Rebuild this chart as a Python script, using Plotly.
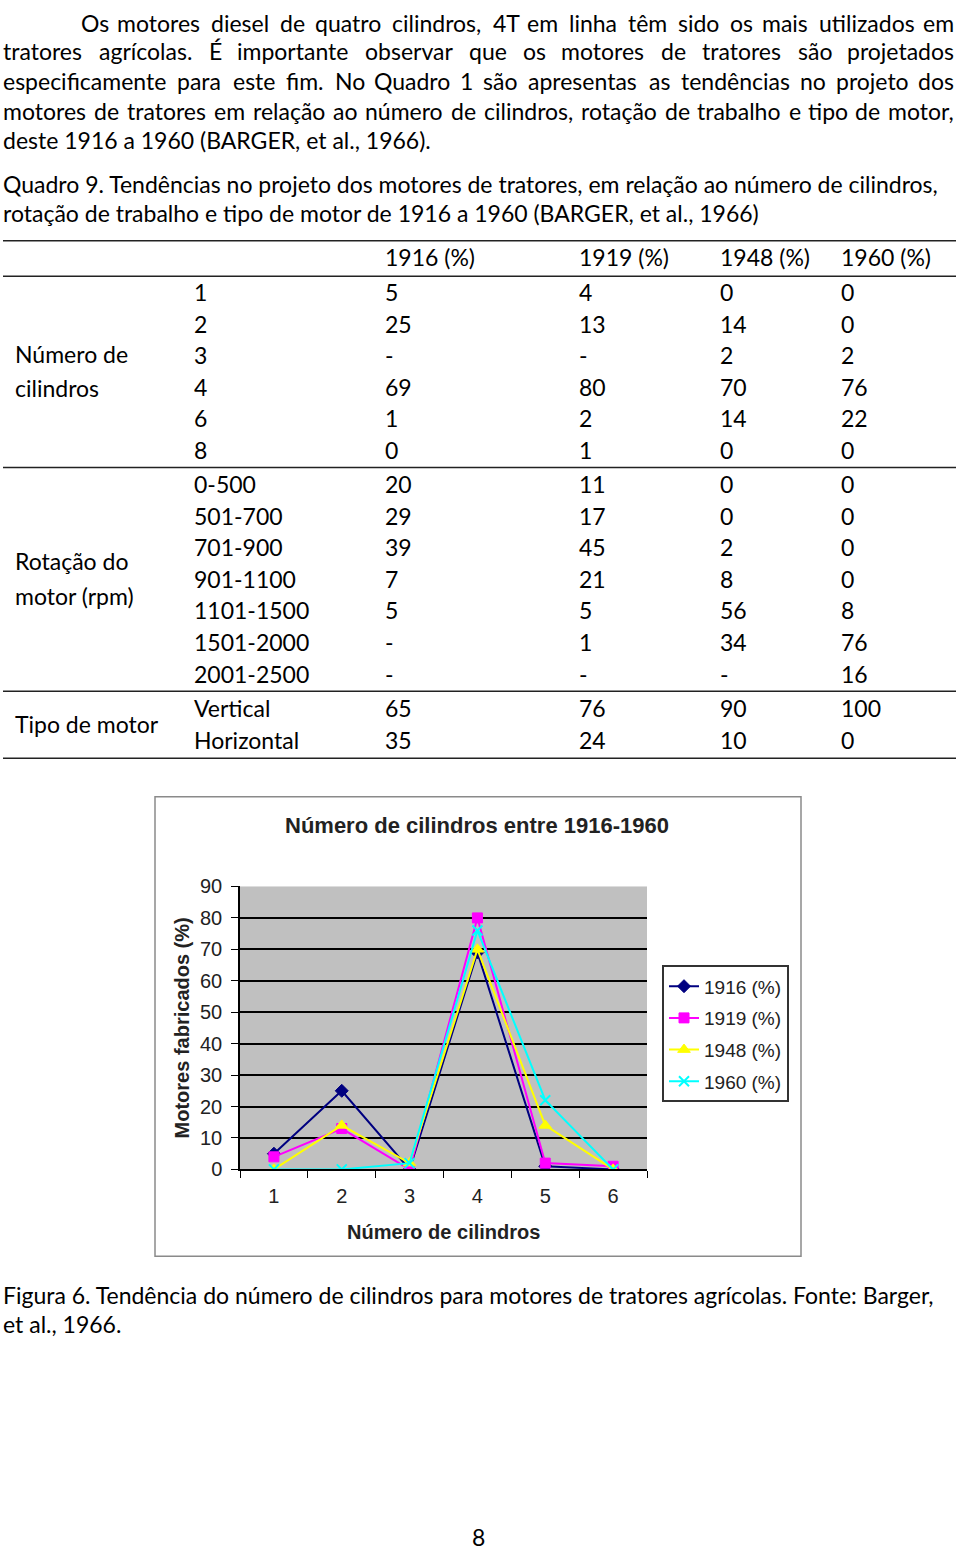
import unicodedata
import plotly.graph_objects as go

# ---- data ----------------------------------------------------------------
years = ["1916 (%)", "1919 (%)", "1948 (%)", "1960 (%)"]

cyl_labels = ["1", "2", "3", "4", "6", "8"]
cyl_1916 = ["5", "25", "-", "69", "1", "0"]
cyl_1919 = ["4", "13", "-", "80", "2", "1"]
cyl_1948 = ["0", "14", "2", "70", "14", "0"]
cyl_1960 = ["0", "0", "2", "76", "22", "0"]

rpm_labels = ["0-500", "501-700", "701-900", "901-1100", "1101-1500", "1501-2000", "2001-2500"]
rpm_1916 = ["20", "29", "39", "7", "5", "-", "-"]
rpm_1919 = ["11", "17", "45", "21", "5", "1", "-"]
rpm_1948 = ["0", "0", "2", "8", "56", "34", "-"]
rpm_1960 = ["0", "0", "0", "0", "8", "76", "16"]

type_labels = ["Vertical", "Horizontal"]
type_1916 = ["65", "35"]
type_1919 = ["76", "24"]
type_1948 = ["90", "10"]
type_1960 = ["100", "0"]

# chart series (Excel plotted the rows as categories 1..6, "-" as 0)
chart_x = ["1", "2", "3", "4", "5", "6"]
chart_1916 = [5, 25, 0, 69, 1, 0]
chart_1919 = [4, 13, 0, 80, 2, 1]
chart_1948 = [0, 14, 2, 70, 14, 0]
chart_1960 = [0, 0, 2, 76, 22, 0]

para_lines = [
    "Os motores diesel de quatro cilindros, 4T em linha têm sido os mais utilizados em",
    "tratores agrícolas. É importante observar que os motores de tratores são projetados",
    "especificamente para este fim. No Quadro 1 são apresentas as tendências no projeto dos",
    "motores de tratores em relação ao número de cilindros, rotação de trabalho e tipo de motor,",
]

# ---- page helpers --------------------------------------------------------
W, H = 960, 1558
DOC_FONT = "Lato"
DOC_SIZE = 23
XL_FONT = "Liberation Sans"

# rough Calibri advance widths (em) used to rebuild the justified layout
CAL = dict(zip("abcdefghijklmnopqrstuvwxyz",
               [.479, .525, .423, .525, .498, .305, .471, .525, .229, .239, .455, .229, .799,
                .525, .527, .525, .525, .349, .391, .335, .525, .452, .715, .433, .453, .395]))
CAL.update(zip("ABCDEFGHIJKLMNOPQRSTUVWXYZ",
               [.579, .544, .533, .615, .488, .459, .631, .623, .252, .319, .520, .420, .855,
                .646, .662, .517, .673, .543, .459, .487, .642, .567, .890, .519, .487, .468]))
CAL.update({c: .507 for c in "0123456789"})
CAL.update({",": .250, ".": .252, "(": .303, ")": .303, "-": .306, "%": .715, ":": .268})
CAL_SIZE = 24.6


def word_w(w):
    base = unicodedata.normalize("NFD", w)
    return sum(CAL.get(c, 0) for c in base if not unicodedata.combining(c)) * CAL_SIZE


def px(x):
    return x / W


def py(y):
    return 1 - y / H


annotations = []


def txt(x, y, s, anchor="left", size=DOC_SIZE, family=DOC_FONT, color="black", angle=0):
    annotations.append(dict(
        x=px(x), y=py(y), xref="paper", yref="paper", text=s, showarrow=False,
        xanchor=anchor, yanchor="middle", textangle=angle, borderpad=0,
        font=dict(family=family, size=size, color=color)))


# justified paragraph, word by word
para_start = [80, 2, 2, 2]
para_y = [12, 41, 71, 101]
RIGHT = 955
for line, x0, y in zip(para_lines, para_start, para_y):
    words = line.split(" ")
    widths = [word_w(w) for w in words]
    gap = (RIGHT - x0 - sum(widths)) / (len(words) - 1)
    x = x0
    for w, ww in zip(words[:-1], widths[:-1]):
        txt(x, y, w)
        x += ww + gap
    txt(RIGHT, y, words[-1], anchor="right")

txt(2, 131, "deste 1916 a 1960 (BARGER, et al., 1966).")
txt(2, 175, "Quadro 9. Tendências no projeto dos motores de tratores, em relação ao número de cilindros,")
txt(2, 205, "rotação de trabalho e tipo de motor de 1916 a 1960 (BARGER, et al., 1966)")

# ---- table ---------------------------------------------------------------
col_x = [193, 384, 578, 719, 840]
for j, yr in enumerate(years):
    txt(col_x[j + 1], 250, yr)

sections = [
    (cyl_labels, [cyl_1916, cyl_1919, cyl_1948, cyl_1960], 285),
    (rpm_labels, [rpm_1916, rpm_1919, rpm_1948, rpm_1960], 480),
    (type_labels, [type_1916, type_1919, type_1948, type_1960], 707),
]
ROW_H = 32
for labels, cols, y0 in sections:
    for i, lab in enumerate(labels):
        y = y0 + i * ROW_H
        txt(col_x[0], y, lab)
        for j, col in enumerate(cols):
            txt(col_x[j + 1], y, col[i])

txt(14, 348, "Número de")
txt(14, 382, "cilindros")
txt(14, 558, "Rotação do")
txt(14, 593, "motor (rpm)")
txt(14, 723, "Tipo de motor")

shapes = []
for y in [233, 269, 463, 690, 758]:
    shapes.append(dict(type="line", xref="paper", yref="paper",
                       x0=px(3), x1=px(956), y0=py(y), y1=py(y),
                       line=dict(color="#222222", width=1.4)))

# ---- chart ---------------------------------------------------------------
shapes.append(dict(type="rect", xref="paper", yref="paper",
                   x0=px(155), x1=px(801), y0=py(797), y1=py(1263),
                   line=dict(color="#8a8a8a", width=1.5), layer="below"))

fig = go.Figure()
series = [
    (years[0], chart_1916, "#000080", "diamond", 10, 1),
    (years[1], chart_1919, "#FF00FF", "square", 10, 1),
    (years[2], chart_1948, "#FFFF00", "triangle-up", 11, 1),
    (years[3], chart_1960, "#00FFFF", "x-thin", 10, 2),
]
for name, vals, color, sym, size, mlw in series:
    fig.add_trace(go.Scatter(
        x=chart_x, y=vals, name=name, legendgroup=name, mode="lines+markers",
        line=dict(color=color, width=2),
        marker=dict(symbol=sym, size=size, color=color, line=dict(color=color, width=mlw)),
    ))

txt(477, 826, "<b>Número de cilindros entre 1916-1960</b>", anchor="center",
    size=22, family=XL_FONT, color="#222222")
txt(443, 1238, "<b>Número de cilindros</b>", anchor="center", size=20,
    family=XL_FONT, color="#222222")
txt(182, 1032, "<b>Motores fabricados (%)</b>", anchor="center", size=20,
    family=XL_FONT, color="#222222", angle=-90)

txt(2, 1302, "Figura 6. Tendência do número de cilindros para motores de tratores agrícolas. Fonte: Barger,")
txt(2, 1332, "et al., 1966.")
txt(478, 1548, "8", anchor="center")

fig.update_layout(
    width=W, height=H,
    margin=dict(l=0, r=0, t=0, b=0),
    paper_bgcolor="white",
    plot_bgcolor="#C0C0C0",
    showlegend=True,
    legend=dict(
        x=px(662), y=py(968), xanchor="left", yanchor="top",
        bgcolor="white", bordercolor="#333333", borderwidth=2,
        font=dict(family=XL_FONT, size=19, color="#222222"),
        tracegroupgap=4, itemwidth=30,
    ),
    xaxis=dict(
        domain=[px(240), px(647)], type="category", range=[-0.5, 5.5],
        tickson="boundaries", ticks="outside", ticklen=7, tickcolor="black",
        showline=True, linecolor="black", linewidth=1.5, showgrid=False,
        tickfont=dict(family=XL_FONT, size=20, color="#222222"),
        ticklabelstandoff=8, fixedrange=True,
    ),
    yaxis=dict(
        domain=[py(1175), py(888)], range=[0, 90], dtick=10,
        ticks="outside", ticklen=7, tickcolor="black",
        showline=True, linecolor="black", linewidth=1.5,
        showgrid=True, gridcolor="black", gridwidth=2, zeroline=False,
        tickfont=dict(family=XL_FONT, size=20, color="#222222"),
        ticklabelstandoff=5, fixedrange=True,
    ),
    annotations=annotations,
    shapes=shapes,
)

fig.write_html("out.html", config={"displayModeBar": False},
               post_script="document.body.style.margin='0';document.body.style.overflow='hidden';")
